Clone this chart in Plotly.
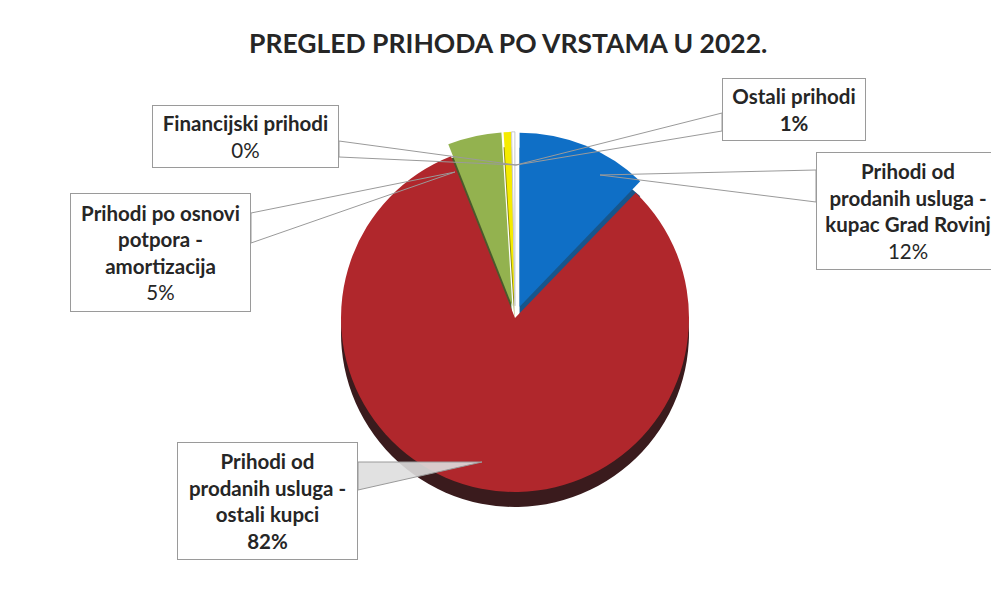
import plotly.graph_objects as go

# ---- data ----
categories = [
    "Prihodi od prodanih usluga - kupac Grad Rovinj",
    "Prihodi od prodanih usluga - ostali kupci",
    "Prihodi po osnovi potpora - amortizacija",
    "Ostali prihodi",
    "Financijski prihodi",
]
values = [12.2, 81.8, 5.0, 0.7, 0.3]
box_text = [
    "<b>Prihodi od<br>prodanih usluga -<br>kupac Grad Rovinj</b>",
    "<b>Prihodi od<br>prodanih usluga -<br>ostali kupci</b>",
    "<b>Prihodi po osnovi<br>potpora -<br>amortizacija</b>",
    "<b>Ostali prihodi</b>",
    "<b>Financijski prihodi</b>",
]
pct_bold = [False, True, False, True, False]
top_colors = ["#0F6FC6", "#B0272C", "#93B24F", "#F5EB00", "#FFFFFF"]
side_colors = ["#17568C", "#3A1B1D", "#4A5A2C", "#8C8A10", "#D8D8D8"]
pulls = [0.07, 0.0, 0.07, 0.07, 0.07]

W, H = 999, 589
OFF = 8  # page body margin
FONT = "Lato"

def px(x):
    return (x - OFF) / W

def py(y):
    return 1 - (y - OFF) / H

fig = go.Figure()

# pie centre / size in pixels
cx, cy, r = 515, 318, 174
half = r * (1 + max(pulls))
depth = 15

def dom(offset):
    return dict(x=[px(cx - half), px(cx + half)],
                y=[py(cy + offset + half), py(cy + offset - half)])

# side (depth) layer
fig.add_trace(go.Pie(
    labels=categories, values=values, sort=False, direction="clockwise",
    rotation=0, pull=pulls, textinfo="none", hoverinfo="skip",
    marker=dict(colors=side_colors, line=dict(width=0)),
    domain=dom(depth), showlegend=False,
))
# top face
fig.add_trace(go.Pie(
    labels=categories, values=values, sort=False, direction="clockwise",
    rotation=0, pull=pulls, textinfo="none", hoverinfo="label+percent",
    marker=dict(colors=top_colors,
                line=dict(color=["rgba(0,0,0,0)"] * 4 + ["#C8C8C8"], width=1)),
    domain=dom(0), showlegend=False,
))

total = sum(values)
pct_text = []
for v, b in zip(values, pct_bold):
    t = f"{round(v / total * 100)}%"
    pct_text.append(f"<b>{t}</b>" if b else t)

# label boxes (left, top, right, bottom) in pixels
boxes = [
    (816, 152, 1000, 270),
    (177, 442, 358, 560),
    (70, 193, 251, 312),
    (722, 78, 866, 141),
    (152, 105, 339, 168),
]
# callout wedges: two points on box edge, and tip
callouts = [
    ((816, 170), (816, 202), (600, 175)),
    ((358, 462), (358, 490), (482, 462)),
    ((251, 213), (251, 243), (455, 172)),
    ((722, 113), (722, 131), (516, 165)),
    ((339, 141), (339, 157), (516, 165)),
]

shapes = []
for i, ((x1, y1), (x2, y2), (tx, ty)) in enumerate(callouts):
    path = (f"M {px(x1)} {py(y1)} L {px(tx)} {py(ty)} L {px(x2)} {py(y2)} Z")
    shapes.append(dict(type="path", xref="paper", yref="paper", path=path,
                       line=dict(color="#9A9A9A", width=1),
                       fillcolor="rgba(222,222,222,0.9)" if i == 1 else "rgba(255,255,255,0)"))

annotations = []
for (l, t, rr, b), txt, pt in zip(boxes, box_text, pct_text):
    annotations.append(dict(
        xref="paper", yref="paper", x=px((l + rr) / 2), y=py((t + b) / 2),
        xanchor="center", yanchor="middle", showarrow=False,
        text=f"{txt}<br>{pt}", align="center",
        width=rr - l - 2, height=b - t - 2, borderpad=0,
        bordercolor="#9A9A9A", borderwidth=1, bgcolor="white",
        font=dict(family=FONT, size=20.5, color="#262626"),
    ))

annotations.append(dict(
    xref="paper", yref="paper", x=px(508), y=py(43),
    xanchor="center", yanchor="middle", showarrow=False,
    text="<b>PREGLED PRIHODA PO VRSTAMA U 2022.</b>",
    font=dict(family=FONT, size=26.5, color="#262626"),
))

fig.update_layout(
    width=W, height=H, margin=dict(l=0, r=0, t=0, b=0),
    paper_bgcolor="white", plot_bgcolor="white",
    shapes=shapes, annotations=annotations, showlegend=False,
)

fig.write_html("out.html")
